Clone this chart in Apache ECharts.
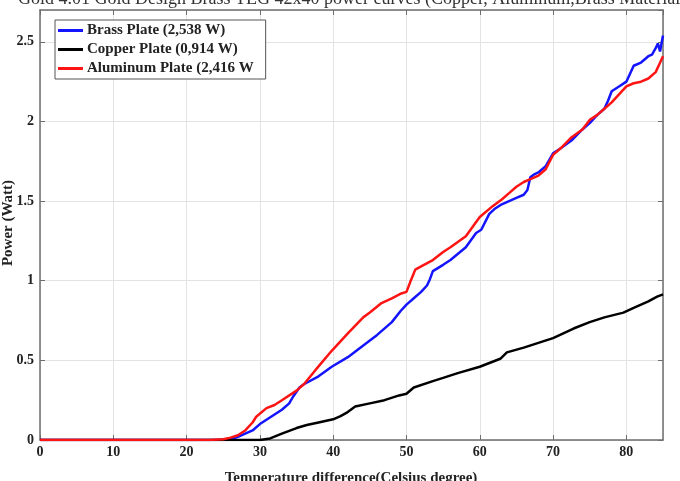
<!DOCTYPE html>
<html><head><meta charset="utf-8">
<script src="https://cdn.jsdelivr.net/npm/echarts@6/dist/echarts.min.js"></script>
<style>html,body{margin:0;padding:0;background:#fff}#c{width:680px;height:481px}</style>
</head><body><div id="c"></div>
<script>
var titleText = "Gold 4.01 Gold Design Brass TEG 42x40 power curves (Copper, Aluminum,Brass Material)";
var xName = "Temperature difference(Celsius degree)";
var yName = "Power (Watt)";
var xTicks = [0, 10, 20, 30, 40, 50, 60, 70, 80];
var yTicks = [0, 0.5, 1, 1.5, 2, 2.5];
var seriesNames = ["Brass Plate (2,538 W)", "Copper Plate (0,914 W)", "Aluminum Plate (2,416 W"];

var brassT = [0, 24, 26, 27, 28, 29, 30, 31, 32, 33, 34, 34.5, 35.4, 36, 38, 39.8, 42, 44.6, 46, 48, 49.2, 50, 51, 52, 52.8, 53.2, 53.6, 55, 56, 58.1, 59.5, 60.2, 61.3, 62, 63, 64, 65, 66, 66.5, 66.9, 67.5, 68, 69, 70, 71, 72.5, 74, 75, 76, 77, 77.5, 78, 79, 80, 80.5, 81, 82, 83, 83.5, 84, 84.3, 84.6, 85];
var brassP = [0, 0, 0.005, 0.02, 0.04, 0.06, 0.10, 0.13, 0.16, 0.19, 0.23, 0.27, 0.33, 0.35, 0.40, 0.46, 0.52, 0.61, 0.66, 0.74, 0.81, 0.85, 0.89, 0.93, 0.97, 1.01, 1.06, 1.10, 1.13, 1.21, 1.30, 1.32, 1.42, 1.45, 1.48, 1.50, 1.52, 1.54, 1.57, 1.65, 1.67, 1.68, 1.72, 1.80, 1.83, 1.88, 1.95, 1.99, 2.04, 2.08, 2.13, 2.19, 2.22, 2.25, 2.30, 2.35, 2.37, 2.41, 2.42, 2.46, 2.49, 2.44, 2.54];

var copperT = [0, 30, 31.4, 33, 35, 36.4, 38, 40, 41, 41.8, 43, 45, 47, 49, 50, 51, 53.6, 55, 57, 60, 62.8, 63.7, 66, 68, 70, 72.8, 75, 77, 79.6, 81, 83, 84.2, 85];
var copperP = [0, 0, 0.01, 0.04, 0.075, 0.094, 0.11, 0.13, 0.15, 0.17, 0.21, 0.23, 0.25, 0.28, 0.29, 0.33, 0.37, 0.39, 0.42, 0.46, 0.51, 0.55, 0.58, 0.61, 0.64, 0.70, 0.74, 0.77, 0.80, 0.83, 0.87, 0.90, 0.914];

var aluT = [0, 23, 25, 26, 27, 28, 29, 29.5, 30.9, 32, 33, 35, 36, 37.6, 39.8, 42, 44.1, 45, 46.6, 48, 49.3, 50, 50.5, 51.2, 52, 53.6, 55, 56, 58.1, 60, 61.8, 63, 64, 65, 66, 67, 68, 69, 70, 71, 72.5, 74, 75, 76, 77, 78, 79, 80, 81, 82, 83, 84, 84.5, 85];
var aluP = [0, 0, 0.005, 0.015, 0.03, 0.06, 0.11, 0.146, 0.20, 0.22, 0.25, 0.31, 0.35, 0.44, 0.56, 0.67, 0.77, 0.80, 0.86, 0.89, 0.92, 0.93, 0.99, 1.07, 1.09, 1.13, 1.18, 1.21, 1.28, 1.40, 1.47, 1.51, 1.55, 1.59, 1.62, 1.64, 1.66, 1.70, 1.79, 1.83, 1.90, 1.95, 2.01, 2.04, 2.08, 2.12, 2.17, 2.22, 2.24, 2.25, 2.27, 2.31, 2.36, 2.41];

function pairs(a, b) { return a.map(function (v, i) { return [v, b[i]]; }); }

var serif = "'Liberation Serif', 'DejaVu Serif', serif";
var axisCol = '#6e6e6e';
var chart = echarts.init(document.getElementById('c'), null, { renderer: 'canvas' });

function xAx(pos, show) {
  return {
    type: 'value', position: pos, min: 0, max: 85, interval: 10,
    axisLine: { show: true, onZero: false, lineStyle: { color: axisCol, width: 1.5 } },
    axisTick: { show: true, inside: true, length: 5, lineStyle: { color: axisCol } },
    axisLabel: { show: show, showMaxLabel: false, color: '#222', fontFamily: serif, fontWeight: 'bold', fontSize: 14, margin: 5,
      formatter: function (v) { return xTicks.indexOf(v) >= 0 ? String(v) : ''; } },
    splitLine: { show: show, lineStyle: { color: '#e3e3e3', width: 1 } }
  };
}
function yAx(pos, show) {
  return {
    type: 'value', position: pos, min: 0, max: 2.7, interval: 0.5,
    axisLine: { show: true, onZero: false, lineStyle: { color: axisCol, width: 1.5 } },
    axisTick: { show: true, inside: true, length: 5, lineStyle: { color: axisCol } },
    axisLabel: { show: show, showMaxLabel: false, color: '#222', fontFamily: serif, fontWeight: 'bold', fontSize: 14, margin: 6,
      formatter: function (v) { return yTicks.indexOf(v) >= 0 ? String(v) : ''; } },
    splitLine: { show: show, lineStyle: { color: '#e3e3e3', width: 1 } }
  };
}

var lineStyle = function (c) { return { color: c, width: 2.5 }; };

chart.setOption({
  animation: false,
  backgroundColor: '#fff',
  grid: { left: 40, right: 17, top: 10, bottom: 41, containLabel: false },
  xAxis: [xAx('bottom', true), xAx('top', false)],
  yAxis: [yAx('left', true), yAx('right', false)],
  legend: {
    left: 55, top: 20, orient: 'vertical', itemGap: 4, itemWidth: 25, itemHeight: 15,
    padding: [3, 12, 3, 3],
    borderColor: '#555', borderWidth: 1, backgroundColor: '#fff',
    textStyle: { fontFamily: serif, fontWeight: 'bold', fontSize: 15, color: '#222', padding: [0, 0, 0, -1] },
    data: seriesNames.map(function (n) { return { name: n, icon: 'path://M0,6 L25,6 L25,9 L0,9 Z' }; })
  },
  series: [
    { name: seriesNames[0], type: 'line', showSymbol: false, data: pairs(brassT, brassP), lineStyle: lineStyle('#1414ff'), itemStyle: { color: '#1414ff' }, z: 3 },
    { name: seriesNames[1], type: 'line', showSymbol: false, data: pairs(copperT, copperP), lineStyle: lineStyle('#000000'), itemStyle: { color: '#000000' }, z: 3 },
    { name: seriesNames[2], type: 'line', showSymbol: false, data: pairs(aluT, aluP), lineStyle: lineStyle('#ff1414'), itemStyle: { color: '#ff1414' }, z: 4 }
  ],
  graphic: [
    { type: 'text', left: 18, top: -10, style: { text: titleText, fontFamily: serif, fontSize: 18, fill: '#333' } },
    { type: 'text', x: 351, y: 478, style: { text: xName, fontFamily: serif, fontWeight: 'bold', fontSize: 15, fill: '#222', align: 'center', verticalAlign: 'middle' } },
    { type: 'text', x: 8, y: 223, rotation: Math.PI / 2, style: { text: yName, fontFamily: serif, fontWeight: 'bold', fontSize: 15, fill: '#222', align: 'center', verticalAlign: 'middle' } }
  ]
});
</script></body></html>
